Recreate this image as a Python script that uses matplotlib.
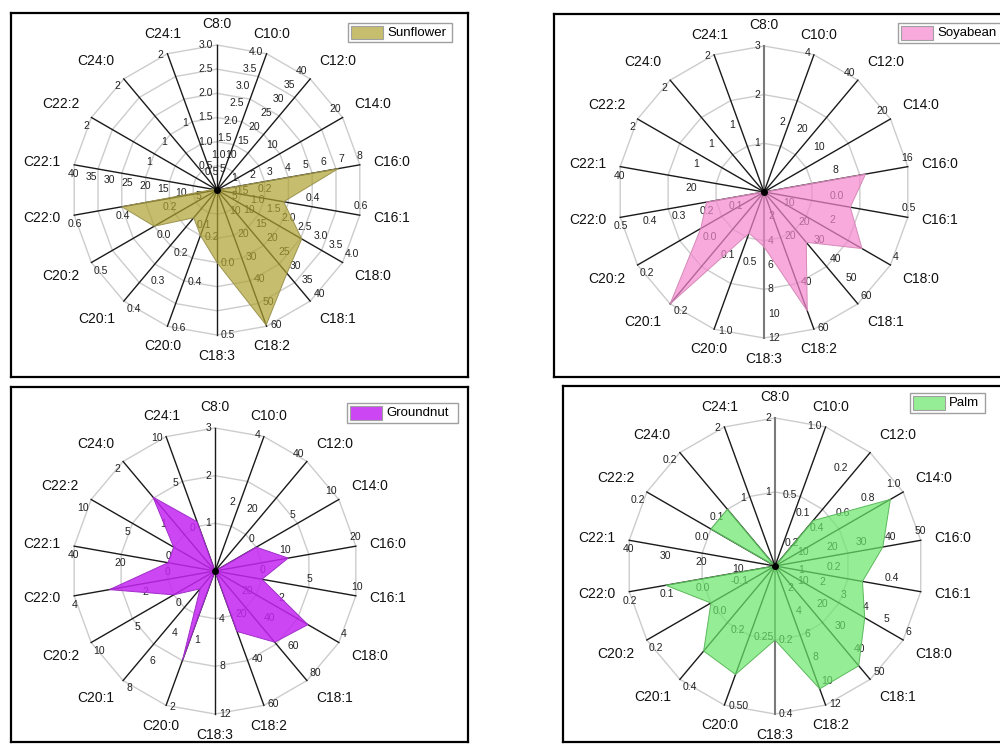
import numpy as np
import matplotlib
matplotlib.use("Agg")
import matplotlib.pyplot as plt
from matplotlib.patches import Rectangle

plt.rcParams["font.family"] = ["Liberation Sans", "DejaVu Sans"]

# ---------------------------------------------------------------- data
acids = ["C8:0", "C10:0", "C12:0", "C14:0", "C16:0", "C16:1", "C18:0", "C18:1",
         "C18:2", "C18:3", "C20:0", "C20:1", "C20:2", "C22:0", "C22:1", "C22:2",
         "C24:0", "C24:1"]

# Sunflower
sun_lo = [0, 0, 0, 0, 0, 0, 0, 0, 0, -0.5, 0, 0, -0.5, 0, 0, 0, 0, 0]
sun_hi = [3, 4, 40, 20, 8, 0.6, 4, 40, 60, 0.5, 0.6, 0.4, 0.5, 0.6, 40, 2, 2, 2]
sun_ticks = [
    ["0.5", "1.0", "1.5", "2.0", "2.5", "3.0"],
    ["0.5", "1.0", "1.5", "2.0", "2.5", "3.0", "3.5", "4.0"],
    ["5", "10", "15", "20", "25", "30", "35", "40"],
    ["10", "20"],
    ["1", "2", "3", "4", "5", "6", "7", "8"],
    ["0.2", "0.4", "0.6"],
    ["0.5", "1.0", "1.5", "2.0", "2.5", "3.0", "3.5", "4.0"],
    ["5", "10", "15", "20", "25", "30", "35", "40"],
    ["10", "20", "30", "40", "50", "60"],
    ["0.0", "0.5"],
    ["0.2", "0.4", "0.6"],
    ["0.1", "0.2", "0.3", "0.4"],
    ["0.0", "0.5"],
    ["0.2", "0.4", "0.6"],
    ["5", "10", "15", "20", "25", "30", "35", "40"],
    ["1", "2"],
    ["1", "2"],
    ["1", "2"],
]
sun_values = [0, 0, 0, 0, 6.8, 0.28, 2.7, 30, 59.5, 0.0, 0.2, 0.1, 0.0, 0.4, 1, 0, 0, 0]

# Soyabean
soy_lo = [0, 0, 0, 0, 0, -0.5, 0, 0, 0, 0, 0, 0, -0.2, 0, 0, 0, 0, 0]
soy_hi = [3, 4, 40, 20, 16, 0.5, 4, 60, 60, 12, 1.0, 0.2, 0.2, 0.5, 40, 2, 2, 2]
soy_ticks = [
    ["1", "2", "3"],
    ["2", "4"],
    ["20", "40"],
    ["10", "20"],
    ["8", "16"],
    ["0.0", "0.5"],
    ["2", "4"],
    ["10", "20", "30", "40", "50", "60"],
    ["20", "40", "60"],
    ["2", "4", "6", "8", "10", "12"],
    ["0.5", "1.0"],
    ["0.1", "0.2"],
    ["0.0", "0.2"],
    ["0.1", "0.2", "0.3", "0.4", "0.5"],
    ["20", "40"],
    ["1", "2"],
    ["1", "2"],
    ["1", "2"],
]
soy_values = [0, 0, 0, 0, 11.3, 0.1, 3.1, 27, 52, 4.5, 0.3, 0.2, 0.0, 0.2, 0.2, 0, 0, 0]

# Groundnut
gnd_lo = [0, 0, 0, -5, 0, -5, 0, 0, 0, 0, 0, 0, -5, 0, -20, -5, 0, -5]
gnd_hi = [3, 4, 40, 10, 20, 10, 4, 80, 60, 12, 2, 8, 10, 4, 40, 10, 2, 10]
gnd_ticks = [
    ["1", "2", "3"],
    ["2", "4"],
    ["20", "40"],
    ["0", "5", "10"],
    ["10", "20"],
    ["0", "5", "10"],
    ["2", "4"],
    ["20", "40", "60", "80"],
    ["20", "40", "60"],
    ["4", "8", "12"],
    ["1", "2"],
    ["4", "6", "8"],
    ["0", "5", "10"],
    ["2", "4"],
    ["0", "20", "40"],
    ["0", "5", "10"],
    ["1", "2"],
    ["0", "5", "10"],
]
gnd_values = [0, 0, 0, 0, 10.4, 0, 3.0, 52, 27, 0, 1.33, 1.3, 0, 3.0, 0, 0, 1.35, 0.5]

# Palm
palm_lo = [0, 0, 0, 0, 0, 0, 0, 0, 0, 0, 0, 0, -0.2, -0.2, 0, -0.2, 0, 0]
palm_hi = [2, 1.0, 0.25, 1.0, 50, 0.5, 6, 50, 12, 0.4, 0.5, 0.4, 0.2, 0.2, 40, 0.2, 0.2, 2]
palm_ticks = [
    ["1", "2"],
    ["0.5", "1.0"],
    ["0.1", "0.2"],
    ["0.2", "0.4", "0.6", "0.8", "1.0"],
    ["10", "20", "30", "40", "50"],
    ["0.2", "0.4"],
    ["1", "2", "3", "4", "5", "6"],
    ["10", "20", "30", "40", "50"],
    ["2", "4", "6", "8", "10", "12"],
    ["0.2", "0.4"],
    ["0.25", "0.50"],
    ["0.2", "0.4"],
    ["0.0", "0.2"],
    ["-0.1", "0.0", "0.1", "0.2"],
    ["10", "20", "30", "40"],
    ["0.0", "0.2"],
    ["0.1", "0.2"],
    ["1", "2"],
]
palm_values = [0, 0, 0.1, 0.9, 37, 0.3, 4.2, 44, 10.6, 0.2, 0.39, 0.3, 0.0, 0.1, 0, 0.0, 0.1, 0]

# ---------------------------------------------------------------- drawing
W, H = 1000, 749
fig = plt.figure(figsize=(W / 100, H / 100), dpi=100)

n = len(acids)
theta = np.deg2rad(90 - 360.0 / n * np.arange(n))
ux, uy = np.cos(theta), np.sin(theta)


def align(c, s, thr=0.45):
    ha = "left" if c > thr else ("right" if c < -thr else "center")
    va = "bottom" if s > thr else ("top" if s < -thr else "center")
    return ha, va


def draw_panel(box, center, R, n_rings, lo, hi, ticks, values, face, edge,
               alpha, name, leg, soft_vertical=False):
    x0, y0, x1, y1 = box
    cx, cy = center
    ax = fig.add_axes([x0 / W, 1 - y1 / H, (x1 - x0) / W, (y1 - y0) / H])
    ax.set_xlim(x0 - cx, x1 - cx)
    ax.set_ylim(cy - y1, cy - y0)
    ax.set_xticks([])
    ax.set_yticks([])
    for sp in ax.spines.values():
        sp.set_linewidth(1.6)
        sp.set_color("black")

    # polygonal grid rings
    rx = np.append(ux, ux[0])
    ry = np.append(uy, uy[0])
    for k in range(1, n_rings + 1):
        f = R * k / n_rings
        ax.plot(rx * f, ry * f, color="#cccccc", lw=1.0, zorder=1)

    # spokes
    for i in range(n):
        vertical = abs(ux[i]) < 1e-6
        if soft_vertical and vertical:
            ax.plot([0, R * ux[i]], [0, R * uy[i]], color="#7a7a7a", lw=1.5, zorder=2)
        else:
            ax.plot([0, R * ux[i]], [0, R * uy[i]], color="#1a1a1a", lw=1.0, zorder=2)

    lo = np.asarray(lo, float)
    hi = np.asarray(hi, float)

    # per-spoke tick labels, on the counter-clockwise side of each spoke
    for i in range(n):
        px, py = -uy[i], ux[i]
        ha, va = align(px, py)
        for lab in ticks[i]:
            r = R * (float(lab) - lo[i]) / (hi[i] - lo[i])
            ax.text(r * ux[i] + 4 * px, r * uy[i] + 4 * py, lab, fontsize=7.5,
                    ha=ha, va=va, color="#222222", zorder=3)

    # data polygon
    frac = (np.asarray(values, float) - lo) / (hi - lo)
    ax.fill(R * frac * ux, R * frac * uy, facecolor=face, edgecolor="none",
            alpha=alpha, zorder=4)
    ax.fill(R * frac * ux, R * frac * uy, facecolor="none", edgecolor=edge,
            lw=0.7, zorder=4)
    ax.plot([0], [0], "o", ms=4, color="black", zorder=5)

    # category labels
    for i in range(n):
        ha, va = align(ux[i], uy[i])
        ax.text((R + 14) * ux[i], (R + 14) * uy[i], acids[i], fontsize=10,
                ha=ha, va=va, color="#111111", zorder=6)

    # legend
    lx0, ly0, lx1, ly1 = leg
    ax.add_patch(Rectangle((lx0 - cx, cy - ly1), lx1 - lx0, ly1 - ly0,
                           facecolor="white", edgecolor="#a0a0a0", lw=1.0,
                           zorder=7, clip_on=False))
    ax.add_patch(Rectangle((lx0 + 3 - cx, cy - ly1 + 3), 32, ly1 - ly0 - 6,
                           facecolor=face, alpha=alpha, edgecolor="none",
                           zorder=8, clip_on=False))
    ax.add_patch(Rectangle((lx0 + 3 - cx, cy - ly1 + 3), 32, ly1 - ly0 - 6,
                           facecolor="none", edgecolor="#a0a0a0", lw=0.8,
                           zorder=8, clip_on=False))
    ax.text(lx0 + 39 - cx, cy - (ly0 + ly1) / 2, name, fontsize=9.5,
            ha="left", va="center", zorder=9, clip_on=False)


draw_panel((11, 13, 468, 377), (217, 190), 145, 6, sun_lo, sun_hi, sun_ticks,
           sun_values, "#aea230", "#9c9450", 0.7, "Sunflower", (348, 23, 452, 42))
draw_panel((554, 14, 1015, 377), (764, 192), 146, 3, soy_lo, soy_hi, soy_ticks,
           soy_values, "#f486cd", "#d58ab8", 0.7, "Soyabean", (898, 23, 1010, 43),
           soft_vertical=True)
draw_panel((11, 387, 468, 742), (215, 571), 143, 3, gnd_lo, gnd_hi, gnd_ticks,
           gnd_values, "#c426f3", "#a030c8", 0.85, "Groundnut", (347, 403, 458, 423))
draw_panel((563, 386, 1015, 742), (775, 566), 148, 2, palm_lo, palm_hi, palm_ticks,
           palm_values, "#69e769", "#5cb85c", 0.7, "Palm", (910, 393, 985, 413),
           soft_vertical=True)

fig.savefig("out.png", dpi=100)
